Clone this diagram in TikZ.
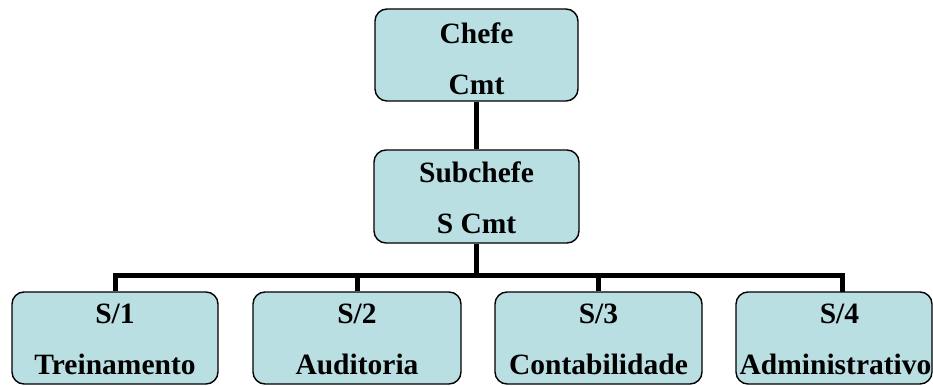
\documentclass[tikz,border=0pt]{standalone}
\usepackage{fontspec}
\setmainfont{Liberation Serif}
\definecolor{boxfill}{RGB}{185,223,227}
\begin{document}
\begin{tikzpicture}[x=1pt,y=-1pt,
  orgbox/.style={draw=black,line width=1.4pt,fill=boxfill,rounded corners=12pt,inner sep=0pt,minimum height=92pt},
  orgtext/.style={inner sep=0pt,align=center,font=\fontsize{29.5}{51}\selectfont\bfseries},
  conn/.style={line width=5pt,line join=miter,draw=black}]
\useasboundingbox (0,0) rectangle (933,385);
% boxes
\node[orgbox,minimum width=203pt] (chefe) at (476.5,55) {};
\node[orgbox,minimum width=205pt,minimum height=93pt] (sub) at (476.5,196.5) {};
\node[orgbox,minimum width=206pt] (b1) at (115,338) {};
\node[orgbox,minimum width=208pt] (b2) at (357,338) {};
\node[orgbox,minimum width=207pt] (b3) at (598.5,338) {};
\node[orgbox,minimum width=196pt] (b4) at (834,338) {};
% connectors
\coordinate (bus) at (476.5,275);
\coordinate (c4) at (842,292);
\draw[conn] (chefe.south) -- (sub.north);
\draw[conn] (sub.south) -- (bus);
\draw[conn] (b1.north) |- (bus) -| (c4);
\draw[conn] (b2.north) -- (b2.north |- bus);
\draw[conn] (b3.north) -- (b3.north |- bus);
% texts
\node[orgtext] (tchefe) at ([yshift=-3.5pt]chefe.center) {Chefe\\Cmt};
\node[orgtext] (tsub) at ([yshift=-1.5pt]sub.center) {Subchefe\\S Cmt};
\node[orgtext] (t1) at ([yshift=-1pt]b1.center) {S/1\\Treinamento};
\node[orgtext] (t2) at ([yshift=-1pt]b2.center) {S/2\\Auditoria};
\node[orgtext] (t3) at ([yshift=-1pt]b3.center) {S/3\\Contabilidade};
\node[orgtext,align=center] (t4) at ([yshift=-1pt]835.5,338) {\makebox[0pt]{\hspace*{8pt}S/4}\\Administrativo};
\end{tikzpicture}
\end{document}
